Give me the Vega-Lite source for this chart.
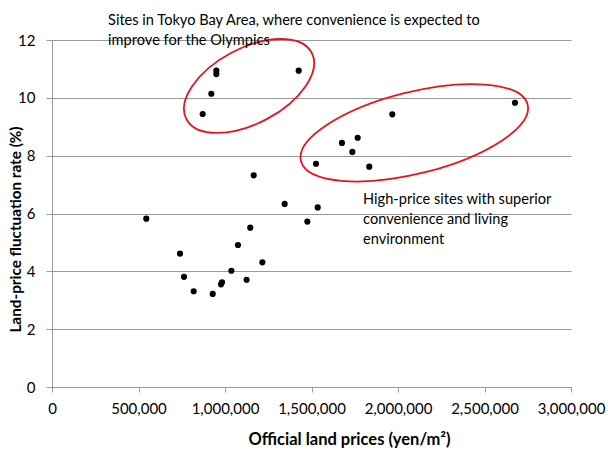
{
  "$schema": "https://vega.github.io/schema/vega-lite/v6.json",
  "width": 519,
  "height": 347,
  "autosize": "none",
  "padding": {"left": 52, "top": 40, "right": 37, "bottom": 64},
  "background": "white",
  "config": {
    "view": {"stroke": null},
    "font": "Lato",
    "axis": {"labelFont": "Lato", "titleFont": "Lato", "labelColor": "#000", "titleColor": "#000", "labelFontSize": 15, "titleFontSize": 15, "titleFontWeight": "bold", "domainColor": "#999", "tickColor": "#999", "gridColor": "#999"}
  },
  "datasets": {
    "sites": [
      {"price": 545000, "rate": 5.82},
      {"price": 740000, "rate": 4.61},
      {"price": 763000, "rate": 3.81},
      {"price": 819000, "rate": 3.31},
      {"price": 929000, "rate": 3.22},
      {"price": 977000, "rate": 3.55},
      {"price": 983000, "rate": 3.62},
      {"price": 1037000, "rate": 4.02},
      {"price": 1075000, "rate": 4.91},
      {"price": 1146000, "rate": 5.51},
      {"price": 1125000, "rate": 3.71},
      {"price": 1216000, "rate": 4.31},
      {"price": 1166000, "rate": 7.32},
      {"price": 1345000, "rate": 6.33},
      {"price": 1476000, "rate": 5.72},
      {"price": 1536000, "rate": 6.21},
      {"price": 1526000, "rate": 7.72},
      {"price": 1426000, "rate": 10.94},
      {"price": 1967000, "rate": 9.43},
      {"price": 2676000, "rate": 9.83},
      {"price": 1676000, "rate": 8.44},
      {"price": 1767000, "rate": 8.62},
      {"price": 1736000, "rate": 8.13},
      {"price": 1834000, "rate": 7.62},
      {"price": 950000, "rate": 10.94},
      {"price": 950000, "rate": 10.82},
      {"price": 921000, "rate": 10.14},
      {"price": 871000, "rate": 9.44}
    ],
    "groups": [
      {"group": "bay", "price": 1139000, "rate": 10.41},
      {"group": "high", "price": 2094000, "rate": 8.79}
    ],
    "notes": [
      {"group": "bay", "price": 324000, "rate": 12.93, "note": "Sites in Tokyo Bay Area, where convenience is expected to\nimprove for the Olympics"},
      {"group": "high", "price": 1798000, "rate": 6.74, "note": "High-price sites with superior\nconvenience and living\nenvironment"}
    ]
  },
  "layer": [
    {
      "data": {"name": "sites"},
      "mark": {"type": "point", "filled": true, "color": "#000", "opacity": 1, "size": 38},
      "encoding": {
        "x": {"field": "price", "type": "quantitative", "scale": {"domain": [0, 3000000], "nice": false},
          "axis": {"values": [0, 500000, 1000000, 1500000, 2000000, 2500000, 3000000], "format": ",.0f", "grid": false, "tickSize": 5, "labelPadding": 9, "title": "Official land prices (yen/m²)", "titleFontSize": 16.5, "titlePadding": 15, "titleX": 297, "labelFlush": false}},
        "y": {"field": "rate", "type": "quantitative", "scale": {"domain": [0, 12], "nice": false},
          "axis": {"values": [0, 2, 4, 6, 8, 10, 12], "grid": true, "tickSize": 6, "labelPadding": 11, "title": "Land-price fluctuation rate (%)", "titleFontSize": 15.3, "titlePadding": -6, "titleY": 189}}
      }
    },
    {
      "data": {"name": "groups"},
      "transform": [{"filter": "datum.group === 'bay'"}],
      "mark": {"type": "point", "filled": false, "stroke": "#e8141c", "strokeWidth": 1.8, "opacity": 1, "size": 20107, "angle": 332, "shape": "M -1 0 A 1 0.53 0 1 1 1 0 A 1 0.53 0 1 1 -1 0 Z"},
      "encoding": {"x": {"field": "price", "type": "quantitative"}, "y": {"field": "rate", "type": "quantitative"}}
    },
    {
      "data": {"name": "groups"},
      "transform": [{"filter": "datum.group === 'high'"}],
      "mark": {"type": "point", "filled": false, "stroke": "#e8141c", "strokeWidth": 1.8, "opacity": 1, "size": 54569, "angle": 346, "shape": "M -1 0 A 1 0.35 0 1 1 1 0 A 1 0.35 0 1 1 -1 0 Z"},
      "encoding": {"x": {"field": "price", "type": "quantitative"}, "y": {"field": "rate", "type": "quantitative"}}
    },
    {
      "data": {"name": "notes"},
      "mark": {"type": "text", "align": "left", "baseline": "top", "fontSize": 14.6, "lineHeight": 20, "lineBreak": "\n", "color": "#000", "font": "Lato"},
      "encoding": {"x": {"field": "price", "type": "quantitative"}, "y": {"field": "rate", "type": "quantitative"}, "text": {"field": "note"}}
    }
  ]
}
